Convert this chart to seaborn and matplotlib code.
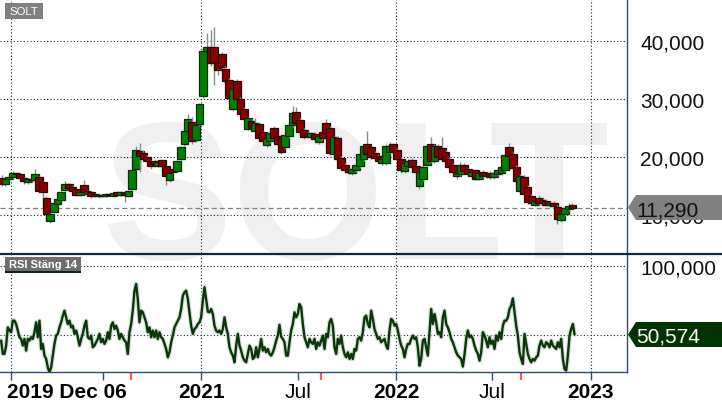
import matplotlib
matplotlib.use("Agg")
import numpy as np
import pandas as pd
import matplotlib.pyplot as plt
import matplotlib.dates as mdates
import matplotlib.patheffects as pe
from matplotlib.patches import Polygon, Rectangle
from matplotlib.lines import Line2D
from matplotlib.transforms import ScaledTranslation
import seaborn as sns

sns.set_theme(style="white")
plt.rcParams["font.family"] = ["Liberation Sans", "DejaVu Sans"]

# ---------------- data (SEK, weekly candles) ----------------
ticker = "SOLT"
candle_start = "2019-12-23"
opens = [16.4, 15.3, 16.2, 16.5, 17.2, 17.0, 16.4, 15.7, 16.2, 16.0,
         16.5, 15.7, 13.0, 8.9, 10.5, 11.9, 12.6, 14.3, 15.3, 14.9,
         14.5, 13.5, 15.2, 13.7, 14.0, 13.6, 13.2, 13.5, 13.3, 13.6,
         13.3, 13.9, 13.5, 13.8, 13.3, 14.5, 17.9, 21.0, 20.7, 20.1,
         19.2, 19.3, 18.5, 19.5, 18.5, 16.0, 17.9, 17.6, 19.6, 22.2,
         24.5, 26.0, 23.0, 25.7, 30.5, 38.3, 39.0, 39.0, 36.5, 37.8,
         35.3, 33.3, 28.3, 33.1, 30.0, 28.3, 24.9, 26.3, 24.5, 25.8,
         24.3, 22.1, 22.8, 25.0, 23.6, 23.6, 21.7, 23.6, 25.5, 27.8,
         26.4, 24.7, 24.2, 23.4, 24.0, 22.6, 24.4, 25.9, 25.1, 20.5,
         23.3, 19.9, 18.7, 17.9, 17.2, 17.7, 18.4, 19.7, 22.3, 21.7,
         20.7, 20.2, 18.9, 18.9, 20.8, 22.2, 21.2, 19.7, 17.6, 18.5,
         19.5, 18.4, 15.0, 16.3, 18.7, 22.2, 19.3, 21.9, 21.5, 20.9,
         19.7, 18.7, 16.7, 17.1, 18.7, 17.9, 16.7, 17.7, 16.3, 17.4,
         16.7, 17.3, 16.6, 17.0, 17.2, 17.7, 21.7, 20.5, 18.3, 14.1,
         16.6, 14.8, 13.3, 11.8, 12.9, 12.6, 12.4, 11.7, 12.1, 11.4,
         9.1, 10.1, 11.0, 11.7]
closes = [15.3, 16.2, 16.6, 17.2, 17.0, 16.4, 15.8, 16.2, 16.0, 17.1,
          14.2, 14.0, 10.1, 10.2, 12.0, 12.7, 13.9, 15.4, 14.6, 14.2,
          13.5, 14.0, 14.0, 14.2, 13.3, 13.3, 13.5, 13.3, 13.6, 13.4,
          13.8, 13.5, 13.9, 13.4, 14.1, 17.8, 21.2, 20.2, 19.7, 19.3,
          18.4, 18.8, 19.2, 18.4, 16.7, 17.3, 17.5, 19.3, 21.7, 24.5,
          26.6, 22.8, 25.6, 29.1, 38.3, 39.0, 36.3, 36.2, 35.1, 35.5,
          33.1, 30.2, 31.8, 30.0, 27.4, 26.5, 26.7, 25.0, 25.9, 23.3,
          22.8, 23.3, 24.1, 23.3, 22.2, 20.9, 23.8, 25.6, 27.7, 25.9,
          24.3, 23.5, 23.7, 24.1, 23.2, 23.6, 23.3, 24.1, 20.7, 23.4,
          19.7, 18.2, 17.7, 17.4, 17.9, 18.7, 20.5, 21.9, 20.5, 20.0,
          19.9, 19.3, 19.7, 21.9, 22.0, 20.9, 19.7, 17.7, 18.9, 19.3,
          18.3, 17.4, 17.5, 18.3, 21.9, 19.4, 21.9, 20.0, 19.7, 19.3,
          18.3, 17.4, 17.3, 18.7, 17.6, 17.1, 17.4, 16.3, 17.2, 16.7,
          17.1, 16.6, 17.3, 17.7, 18.3, 20.3, 20.2, 18.2, 15.8, 16.8,
          13.7, 12.3, 12.0, 12.4, 12.1, 12.1, 11.8, 12.0, 11.5, 9.3,
          10.2, 11.2, 11.6, 11.29]
highs = [16.9, 16.5, 17.0, 17.6, 17.5, 17.2, 16.6, 16.4, 16.5, 17.9,
         16.8, 15.9, 13.3, 10.4, 12.2, 12.9, 14.1, 15.9, 15.6, 15.1,
         14.7, 14.3, 16.0, 14.4, 14.2, 13.8, 13.7, 13.7, 13.8, 13.8,
         14.0, 14.1, 14.2, 14.0, 14.3, 18.0, 21.9, 22.4, 21.2, 20.4,
         19.5, 19.6, 19.4, 19.7, 18.7, 17.5, 18.1, 19.5, 22.0, 24.8,
         27.4, 26.9, 26.0, 29.4, 38.6, 41.5, 42.0, 42.4, 36.9, 38.2,
         35.7, 33.7, 32.2, 33.5, 30.4, 28.6, 27.0, 26.6, 26.8, 26.1,
         24.5, 23.6, 24.8, 25.3, 23.9, 23.9, 24.0, 25.9, 28.8, 28.6,
         26.7, 25.0, 24.5, 24.4, 24.3, 23.9, 24.7, 26.6, 25.4, 23.7,
         23.6, 20.2, 19.0, 18.2, 18.2, 19.0, 20.8, 22.2, 24.5, 22.0,
         21.0, 20.5, 20.0, 22.2, 22.6, 22.5, 21.5, 20.0, 19.2, 19.6,
         19.8, 18.7, 17.8, 18.6, 22.3, 23.4, 22.2, 22.2, 23.5, 21.2,
         20.0, 19.0, 17.6, 19.2, 19.0, 18.2, 17.7, 18.0, 17.5, 17.7,
         17.4, 17.6, 17.6, 18.0, 18.6, 20.6, 22.4, 20.8, 18.6, 17.1,
         16.9, 15.1, 13.6, 12.7, 13.4, 12.9, 12.7, 12.3, 12.4, 11.7,
         10.5, 11.5, 12.0, 12.0]
lows = [15.0, 15.0, 16.0, 16.3, 16.7, 16.1, 15.4, 15.4, 15.7, 15.8,
        13.9, 11.8, 9.2, 8.6, 10.3, 11.7, 12.4, 14.1, 14.3, 13.6,
        13.2, 13.2, 13.6, 13.4, 13.0, 13.1, 13.0, 13.1, 13.1, 13.2,
        13.1, 13.3, 13.3, 12.3, 13.1, 14.3, 17.7, 17.5, 19.4, 19.0,
        17.9, 18.5, 18.3, 17.6, 15.2, 15.7, 17.3, 17.4, 19.4, 22.0,
        24.3, 22.3, 22.6, 25.4, 30.2, 37.5, 35.8, 32.5, 34.2, 34.5,
        32.7, 29.6, 28.0, 29.5, 27.0, 26.0, 24.6, 24.6, 24.3, 22.9,
        22.3, 21.8, 22.5, 22.9, 21.9, 20.6, 21.4, 23.3, 25.2, 25.5,
        23.9, 23.1, 23.3, 23.1, 22.8, 22.3, 22.9, 23.7, 20.3, 20.1,
        19.3, 17.8, 17.3, 17.0, 16.9, 17.4, 18.1, 19.4, 20.1, 19.6,
        19.5, 18.9, 18.6, 18.6, 20.5, 20.5, 19.3, 17.3, 17.3, 18.2,
        17.9, 17.0, 14.5, 15.8, 18.4, 19.0, 19.0, 19.6, 19.3, 18.9,
        17.9, 17.0, 16.2, 16.8, 17.2, 16.7, 16.4, 16.0, 16.0, 16.4,
        16.4, 16.3, 16.3, 16.7, 16.9, 17.4, 19.9, 17.8, 15.4, 13.8,
        13.3, 11.9, 11.7, 11.5, 11.8, 11.8, 11.5, 11.4, 11.2, 8.5,
        8.8, 9.8, 10.7, 11.1]

rsi_start, rsi_end = "2019-12-22", "2022-12-02"
rsi = [46.2, 36.6, 36.6, 42.6, 55.7, 53.4, 52.2, 60.5, 60.5, 58.1,
       53.4, 48.6, 47.4, 42.6, 47.4, 39.0, 47.4, 46.2, 48.6, 47.4,
       52.2, 59.3, 48.6, 60.5, 40.2, 43.8, 35.4, 33.0, 27.0, 23.4,
       27.0, 35.4, 43.8, 49.8, 51.0, 55.7, 59.3, 64.1, 67.7, 62.9,
       58.1, 60.5, 55.7, 56.9, 51.0, 53.4, 48.6, 42.6, 47.4, 51.0,
       56.9, 60.5, 48.6, 47.4, 49.8, 41.4, 42.6, 45.0, 47.4, 51.0,
       45.0, 47.4, 43.8, 46.2, 52.2, 47.4, 56.9, 59.3, 54.5, 56.9,
       53.4, 47.4, 51.0, 48.6, 46.2, 45.0, 36.6, 52.2, 58.0, 68.0,
       82.0, 86.9, 76.0, 59.3, 67.7, 66.5, 62.9, 59.3, 52.2, 55.7,
       48.6, 53.4, 48.6, 53.4, 47.4, 52.2, 48.6, 47.4, 43.8, 40.2,
       34.2, 37.8, 45.0, 49.8, 55.7, 58.1, 60.5, 62.9, 68.9, 78.5,
       80.9, 82.1, 76.1, 66.5, 56.9, 51.0, 54.5, 55.7, 58.1, 59.3,
       62.9, 74.9, 84.5, 76.0, 67.0,
       66.5, 68.9, 65.3, 56.9, 53.4, 52.2, 53.4, 51.0, 54.5, 62.9,
       55.7, 51.0, 41.4, 37.8, 35.4, 30.6, 42.6, 51.0, 42.6, 39.0,
       34.2, 31.8, 30.6, 36.6, 42.6, 40.2, 33.0, 34.2, 41.4, 34.2,
       40.2, 47.4, 39.0, 41.4, 37.8, 40.2, 36.6, 35.4, 37.8, 41.4,
       46.2, 49.8, 57.5, 49.0, 47.4, 45.0, 35.4, 35.4, 45.0, 53.4,
       58.1, 66.5, 62.9, 65.3, 72.5, 70.1, 58.1, 48.6, 45.0, 41.4,
       47.4, 45.0, 43.8, 47.4, 40.2, 45.0, 42.6, 46.2, 49.8, 40.2,
       51.0, 48.6, 59.3, 61.7, 56.9, 41.4, 36.6, 47.4, 43.8, 49.8,
       41.4, 36.6, 34.2, 37.8, 33.0, 36.6, 33.0, 40.2, 39.0, 47.4,
       48.6, 46.2, 52.2, 62.9, 64.1, 58.1, 55.7, 67.7, 61.7, 54.5,
       51.0, 47.4, 48.6, 45.0, 46.2, 47.4, 42.6, 40.2, 53.4, 61.7,
       60.5, 56.9, 58.1, 53.4, 47.4, 42.6, 40.2, 34.2, 40.2, 43.8,
       43.8, 47.4, 49.8, 47.4, 48.6, 41.4, 28.2, 33.0, 46.2, 47.4,
       41.4, 35.4, 52.2, 68.9, 58.1, 65.3, 59.3, 51.0, 52.2, 48.6,
       62.9, 67.7, 58.1, 55.7, 52.2, 47.4, 45.0, 41.4, 37.8, 35.4,
       34.2, 33.0, 27.5, 36.0, 47.4, 53.4, 48.6, 49.8, 47.4, 42.6,
       39.0, 36.6, 31.8, 37.8, 52.2, 49.8, 46.2, 41.4, 48.6, 43.8,
       46.2, 40.2, 49.8, 46.2, 52.2, 47.4, 56.9, 60.5, 60.5, 62.9,
       68.9, 71.3, 76.5, 67.0, 56.9, 49.8, 37.8, 33.0, 29.4, 51.0,
       43.8, 36.6, 33.0, 30.6, 33.0, 31.8, 34.2, 35.4, 42.6, 46.2,
       42.6, 41.4, 45.0, 43.8, 41.4, 46.2, 42.6, 41.4, 40.2, 45.0,
       41.4, 47.4, 33.0, 25.8, 24.6, 35.4, 49.8, 54.5, 58.1, 50.574]

last_close = 11.29
last_rsi = 50.574
price_ticks = [10, 20, 30, 40]
rsi_grid = [50, 100]
rsi_ticks = [100]
date_ticks = ["2020-01-10", "2020-07-01", "2021-01-01", "2021-07-01",
              "2022-01-01", "2022-07-01", "2023-01-01"]
date_labels = ["2019 Dec 06", "", "2021", "Jul", "2022", "Jul", "2023"]
date_bold = [True, False, True, False, True, False, True]
grid_dates = ["2020-01-10", "2021-01-01", "2022-01-01", "2023-01-01"]
event_dates = ["2020-08-21", "2021-08-13", "2022-08-24"]
panel_title = "RSI Stäng 14"


def fmt(v):
    return f"{v:,.3f}".replace(",", " ").replace(".", ",").replace(" ", ".")


# ---------------- layout ----------------
W, H = 722, 410
fig = plt.figure(figsize=(W / 100, H / 100), dpi=100)
fig.patch.set_facecolor("white")


def fx(px):
    return px / W


def fy(py):
    return 1 - py / H


AXR = 627
ax1 = fig.add_axes([0, fy(254), fx(AXR), 254 / H])
ax2 = fig.add_axes([0, fy(373.3), fx(AXR), (373.3 - 256) / H])
for ax in (ax1, ax2):
    ax.set_facecolor("none")
    ax.grid(False)

# watermark
fig.text(fx(355), fy(259), ticker, fontsize=141, fontweight="bold",
         color="#f0f0f0", ha="center", va="baseline", zorder=-5)

ref = mdates.date2num(pd.Timestamp("2021-01-01"))
ppd, ref_px = 0.5329, 201.5
xl, xr = ref - ref_px / ppd, ref + (AXR - ref_px) / ppd

# ---------------- candles ----------------
cd = mdates.date2num(pd.date_range(candle_start, periods=len(opens), freq="7D"))
for i in range(len(opens)):
    z = 3 + i * 0.01
    up = closes[i] >= opens[i]
    ax1.vlines(cd[i], lows[i], highs[i], color="#8c8c8c", lw=1.0, zorder=z)
    ax1.bar(cd[i], closes[i] - opens[i], bottom=opens[i], width=14.5,
            color="#008000" if up else "#880000",
            edgecolor="#0b2a0b" if up else "#2a0808", linewidth=0.9,
            zorder=z + 0.005)

ax1.axhline(last_close, color="#808080", lw=0.9, ls=(0, (4, 2.5)), zorder=2.5)

# ---------------- RSI ----------------
rx = mdates.date2num(pd.date_range(rsi_start, rsi_end, periods=len(rsi)))
sns.lineplot(x=rx, y=rsi, ax=ax2, color="#0a360a", lw=1.7,
             estimator=None, sort=False, zorder=4)
ax2.lines[0].set_path_effects([pe.Stroke(linewidth=3.4, foreground="#c9d2c9", alpha=0.7),
                               pe.Normal()])
ax2.set_xlabel("")
ax2.set_ylabel("")

# ---------------- grids ----------------
gkw = dict(color="#0f2a40", lw=0.8, ls=(0, (1, 2)), zorder=1)
for v in price_ticks:
    ax1.axhline(v, **gkw)
for v in rsi_grid:
    ax2.axhline(v, **gkw)
for d in grid_dates:
    n = mdates.date2num(pd.Timestamp(d))
    ax1.axvline(n, **gkw)
    ax2.axvline(n, **gkw)

# ---------------- axes ----------------
for ax in (ax1, ax2):
    ax.set_xlim(xl, xr)
    for s in ("top", "left"):
        ax.spines[s].set_visible(False)
    ax.spines["right"].set_color("#2b4f72")
    ax.spines["right"].set_linewidth(1)
    ax.yaxis.tick_right()
ax1.spines["bottom"].set_visible(False)
ax2.spines["bottom"].set_color("#2b4f72")
ax2.spines["bottom"].set_linewidth(1)

ax1.set_ylim(3.437, 47.306)
ax2.set_ylim(23.4, 107.7)

ax1.set_yticks(price_ticks)
ax1.set_yticklabels([fmt(v) for v in price_ticks])
ax2.set_yticks(rsi_ticks)
ax2.set_yticklabels([fmt(v) for v in rsi_ticks])
for ax in (ax1, ax2):
    ax.tick_params(axis="y", which="both", left=False, right=True, length=0,
                   pad=9.4, labelsize=15, labelcolor="#111111",
                   labelleft=False, labelright=True)
ax1.tick_params(axis="x", which="both", bottom=False, labelbottom=False)

tn = [mdates.date2num(pd.Timestamp(d)) for d in date_ticks]
ax2.set_xticks(tn)
ax2.set_xticklabels(date_labels)
ax2.set_xticks([mdates.date2num(pd.Timestamp(d)) for d in event_dates], minor=True)
ax2.tick_params(axis="x", which="major", bottom=True, length=6, width=1,
                color="#2b4f72", pad=1, labelsize=15, labelcolor="#000000")
ax2.tick_params(axis="x", which="minor", bottom=True, length=6, width=1.6,
                color="#ff5a5a")
for lbl, b in zip(ax2.get_xticklabels(), date_bold):
    lbl.set_fontweight("bold" if b else "normal")
first = ax2.get_xticklabels()[0]
first.set_horizontalalignment("left")
first.set_transform(first.get_transform() + ScaledTranslation(-4.7 / 100, 0, fig.dpi_scale_trans))

# separator between panels
fig.add_artist(Line2D([0, 1], [fy(255), fy(255)], transform=fig.transFigure,
                      color="#0e2a3a", lw=1.6, zorder=6))


# ---------------- value tags ----------------
def value_tag(ax, value, fc, tc):
    py = H - ax.transData.transform((xl, value))[1]
    pts = [(628, py), (636, py - 12.5), (722, py - 12.5), (722, py + 12.5), (636, py + 12.5)]
    fig.add_artist(Polygon([(fx(a), fy(b)) for a, b in pts], closed=True,
                           transform=fig.transFigure, fc=fc, ec="none", zorder=7))
    fig.text(fx(636), fy(py + 7.5), fmt(value), fontsize=15, color=tc,
             ha="left", va="baseline", zorder=8)


value_tag(ax1, last_close, "#808080", "#111111")
value_tag(ax2, last_rsi, "#003300", "#ffffff")

# ---------------- panel titles ----------------
fig.add_artist(Rectangle((fx(5), fy(19.5)), fx(38), 15.5 / H, transform=fig.transFigure,
                         fc="#808080", ec="none", zorder=7))
fig.text(fx(24), fy(12), ticker, fontsize=8.2, color="white", ha="center",
         va="center", zorder=8)
fig.add_artist(Rectangle((fx(5), fy(271.5)), fx(76), 13.5 / H, transform=fig.transFigure,
                         fc="#6e6e6e", ec="none", zorder=7))
fig.add_artist(Rectangle((fx(5), fy(273.5)), fx(76), 2 / H, transform=fig.transFigure,
                         fc="#0a2a0a", ec="none", zorder=7))
fig.text(fx(43), fy(265), panel_title, fontsize=8, fontweight="bold", color="white",
         ha="center", va="center", zorder=8)

fig.savefig("out.png", dpi=100)
